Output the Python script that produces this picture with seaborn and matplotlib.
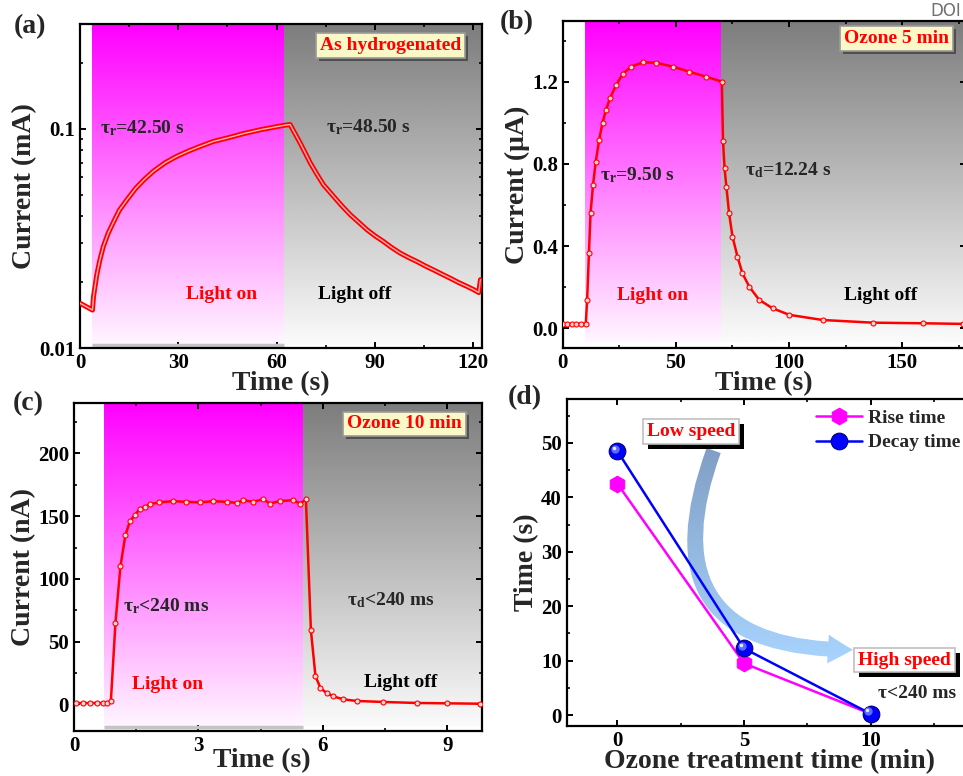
import numpy as np
import matplotlib
matplotlib.use('Agg')
import matplotlib.pyplot as plt
import matplotlib.patheffects as pe
from matplotlib.colors import to_rgb
from matplotlib.patches import FancyArrowPatch
from matplotlib.ticker import MultipleLocator, LogLocator, NullFormatter, FormatStrFormatter
from matplotlib.transforms import offset_copy
import seaborn as sns

# (a) as hydrogenated, current in mA (log)
ta = [0, 3.8, 4.1, 5.1, 6.0, 7.1, 8.6, 10.2, 12.0, 14.3, 17.0, 19.5, 22.4, 26.0, 29.5, 33.0,
      36.6, 40.7, 44.8, 49.9, 55.0, 59.0, 62.1, 64.1,
      67.2, 70.3, 72.3, 74.3, 77.4, 79.9, 82.5, 85.0, 87.6, 90.0, 92.6, 95.0, 97.7, 100.2,
      102.8, 105.3, 107.9, 110.5, 113.0, 115.5, 118.1, 120.0, 121.7, 122.2]
ia = [0.0160, 0.0149, 0.0171, 0.0215, 0.0250, 0.0290, 0.0334, 0.0375, 0.0425, 0.0474, 0.0535,
      0.0585, 0.0640, 0.0700, 0.0748, 0.0790, 0.0830, 0.0875, 0.0906, 0.0950, 0.0989, 0.1015,
      0.1035, 0.1045,
      0.0860, 0.0697, 0.0620, 0.0555, 0.0491, 0.0445, 0.0405, 0.0375, 0.0346, 0.0325, 0.0306,
      0.0288, 0.0271, 0.0259, 0.0248, 0.0237, 0.0227, 0.0217, 0.0208, 0.0199, 0.0191, 0.0185,
      0.0179, 0.0205]
on_a, off_a = 3.7, 62.3

# (b) ozone 5 min, current in uA
tb = [0, 2, 4, 6, 8, 10.2, 10.8, 11.6, 12.3, 13.4, 14.6, 16.1, 17.6, 19.1, 20.9, 23.6, 26.5,
      30.2, 35.4, 41.3, 48.7, 56.0, 63.4, 70.3, 70.8, 71.5, 72.3, 73.5, 75.0, 77.2, 79.4, 82.4,
      86.8, 92.7, 100.1, 114.8, 136.9, 159.0, 176.6]
ib = [0.021, 0.021, 0.021, 0.021, 0.021, 0.021, 0.138, 0.365, 0.559, 0.697, 0.810, 0.916, 1.000,
      1.062, 1.119, 1.184, 1.237, 1.273, 1.294, 1.292, 1.273, 1.248, 1.224, 1.200, 0.912, 0.778,
      0.689, 0.559, 0.446, 0.348, 0.267, 0.202, 0.138, 0.097, 0.065, 0.040, 0.027, 0.024, 0.021]
on_b, off_b = 10.0, 70.1

# (c) ozone 10 min, current in nA
tc = [0.06, 0.22, 0.39, 0.55, 0.71, 0.79, 0.89, 1.00, 1.12, 1.24, 1.35, 1.47, 1.59, 1.71, 1.83,
      2.06, 2.39, 2.71, 3.04, 3.36, 3.68, 3.92, 4.08, 4.32, 4.56, 4.72, 4.96, 5.29, 5.45, 5.59,
      5.71, 5.82, 5.94, 6.09, 6.25, 6.49, 6.81, 7.45, 8.26, 9.00, 9.78]
ic = [1.0, 1.0, 1.0, 1.0, 1.0, 1.2, 2.7, 65, 110, 135, 146, 151, 156, 157.4, 159.6,
      161, 162, 161.4, 161, 162, 161.4, 160.6, 162.8, 161.4, 163.6, 160.1, 162, 162.8, 160.1, 163.3,
      59, 22.6, 13, 9, 6.4, 4, 2.7, 1.9, 1.1, 0.8, 0.5]
on_c, off_c = 0.72, 5.53

# (d) response times vs ozone treatment
ozone = [0, 5, 10]
rise = [42.5, 9.5, 0.24]
decay = [48.5, 12.24, 0.24]

sns.set_style('ticks')
plt.rcParams['font.family'] = ['Liberation Serif', 'DejaVu Serif']
plt.rcParams['font.weight'] = 'bold'
plt.rcParams['axes.labelweight'] = 'bold'
plt.rcParams['axes.labelsize'] = 20
plt.rcParams['mathtext.fontset'] = 'custom'
plt.rcParams['mathtext.rm'] = 'Liberation Serif:bold'
plt.rcParams['mathtext.bf'] = 'Liberation Serif:bold'
plt.rcParams['mathtext.it'] = 'Liberation Serif:bold'
plt.rcParams['axes.linewidth'] = 1.6
plt.rcParams['axes.edgecolor'] = 'black'
for a in ['xtick', 'ytick']:
    plt.rcParams[a + '.direction'] = 'in'
    plt.rcParams[a + '.labelsize'] = 15
    plt.rcParams[a + '.major.size'] = 4
    plt.rcParams[a + '.major.width'] = 1.4
    plt.rcParams[a + '.minor.size'] = 2.5
    plt.rcParams[a + '.minor.width'] = 1.2
    plt.rcParams[a + '.color'] = 'black'
plt.rcParams['xtick.top'] = True
plt.rcParams['ytick.right'] = True

fig = plt.figure(figsize=(9.63, 7.76), dpi=100)
axa = fig.add_axes([0.0831, 0.5515, 0.4175, 0.4175])
axb = fig.add_axes([0.5843, 0.5519, 0.4185, 0.4210])
axc = fig.add_axes([0.0768, 0.0584, 0.4240, 0.4219])
axd = fig.add_axes([0.5885, 0.0644, 0.4209, 0.4210])


def ramp(c_top, c_bot):
    g = np.linspace(0, 1, 256)[:, None, None]
    return np.array(to_rgb(c_top)) * (1 - g) + np.array(to_rgb(c_bot)) * g


def shade(ax, on, off, end, ybot):
    tr = ax.get_xaxis_transform()
    ax.imshow(ramp('#ff00ff', '#fff6ff'), extent=(on, off, ybot, 1), transform=tr,
              aspect='auto', zorder=0, interpolation='bilinear')
    ax.imshow(ramp('#7d7d7d', '#fbfbfb'), extent=(off, end, ybot, 1), transform=tr,
              aspect='auto', zorder=0, interpolation='bilinear')


def tag(ax, x, y, s, fc, ec, shadow, off, size=14):
    t = ax.text(x, y, s, transform=ax.transAxes, ha='center', va='center', color='red',
                fontsize=size, fontweight='bold', zorder=8,
                bbox=dict(boxstyle='square,pad=0.2', fc=fc, ec=ec, lw=1.2))
    t.get_bbox_patch().set_path_effects([pe.SimplePatchShadow(offset=off, shadow_rgbFace=shadow, alpha=1),
                                         pe.Normal()])


def words(ax, on_xy, off_xy):
    ax.text(*on_xy, 'Light on', transform=ax.transAxes, ha='center', va='center',
            color='red', fontsize=14, zorder=7)
    ax.text(*off_xy, 'Light off', transform=ax.transAxes, ha='center', va='center',
            color='black', fontsize=14, zorder=7)


# ---- (a)
shade(axa, on_a, off_a, 123, 0.01)
axa.plot([on_a, off_a], [0.008, 0.008], transform=axa.get_xaxis_transform(),
         color='#c4c4c4', lw=2.5, zorder=1, solid_capstyle='butt')
sns.lineplot(x=ta, y=ia, ax=axa, color='red', lw=3.6, sort=False, estimator=None, zorder=3)
sns.lineplot(x=ta, y=ia, ax=axa, color='#ffb4b4', lw=1.0, sort=False, estimator=None, zorder=4)
axa.set_yscale('log')
axa.set_xlim(0, 122.7)
axa.set_ylim(0.01, 0.30)
axa.set_yticks([0.01, 0.1], labels=['0.01', '0.1'])
axa.yaxis.set_minor_locator(LogLocator(base=10, subs=np.arange(2, 10)))
axa.yaxis.set_minor_formatter(NullFormatter())
axa.xaxis.set_major_locator(MultipleLocator(30))
axa.xaxis.set_minor_locator(MultipleLocator(15))
axa.set_xlabel('Time (s)', labelpad=-1)
axa.set_ylabel('Current (mA)', labelpad=1)
axa.text(0.05, 0.68, r'τ$_\mathbf{r}$=42.50 s', transform=axa.transAxes, fontsize=14,
         va='center', zorder=7)
axa.text(0.612, 0.683, r'τ$_\mathbf{r}$=48.50 s', transform=axa.transAxes, fontsize=14,
         va='center', zorder=7)
words(axa, (0.351, 0.164), (0.684, 0.164))
tag(axa, 0.773, 0.935, 'As hydrogenated', '#fbf8c8', '#9a9a9a', '#505050', (2.2, -2.2))

# ---- (b)
shade(axb, on_b, off_b, 180, 0.018)
sns.lineplot(x=tb, y=ib, ax=axb, color='red', lw=1.8, marker='o', markersize=3.6,
             markerfacecolor='#ffd6d6', markeredgecolor='red', markeredgewidth=0.8,
             sort=False, estimator=None, zorder=3)
axb.set_xlim(0, 178)
axb.set_ylim(-0.095, 1.495)
axb.xaxis.set_major_locator(MultipleLocator(50))
axb.xaxis.set_minor_locator(MultipleLocator(25))
axb.yaxis.set_major_locator(MultipleLocator(0.4))
axb.yaxis.set_minor_locator(MultipleLocator(0.2))
axb.yaxis.set_major_formatter(FormatStrFormatter('%.1f'))
axb.set_xlabel('Time (s)', labelpad=-1)
axb.set_ylabel('Current (μA)', labelpad=1)
axb.text(0.093, 0.529, r'τ$_\mathbf{r}$=9.50 s', transform=axb.transAxes, fontsize=14,
         va='center', zorder=7)
axb.text(0.452, 0.544, r'τ$_\mathbf{d}$=12.24 s', transform=axb.transAxes, fontsize=14,
         va='center', zorder=7)
words(axb, (0.224, 0.161), (0.789, 0.161))
tag(axb, 0.828, 0.946, 'Ozone 5 min', '#fbf8c8', '#9a9a9a', '#505050', (2.2, -2.2))

# ---- (c)
shade(axc, on_c, off_c, 10, 0.012)
axc.plot([on_c, off_c], [0.012, 0.012], transform=axc.get_xaxis_transform(),
         color='#c4c4c4', lw=2.5, zorder=1, solid_capstyle='butt')
sns.lineplot(x=tc, y=ic, ax=axc, color='red', lw=1.8, marker='o', markersize=3.6,
             markerfacecolor='#ffd6d6', markeredgecolor='red', markeredgewidth=0.8,
             sort=False, estimator=None, zorder=3)
axc.set_xlim(0, 9.84)
axc.set_ylim(-21, 240)
axc.xaxis.set_major_locator(MultipleLocator(3))
axc.xaxis.set_minor_locator(MultipleLocator(1.5))
axc.yaxis.set_major_locator(MultipleLocator(50))
axc.yaxis.set_minor_locator(MultipleLocator(25))
axc.set_xlabel('Time (s)')
axc.xaxis.set_label_coords(0.46, -0.052)
axc.set_ylabel('Current (nA)', labelpad=1)
axc.text(0.121, 0.379, r'τ$_\mathbf{r}$<240 ms', transform=axc.transAxes, fontsize=14,
         va='center', zorder=7)
axc.text(0.668, 0.399, r'τ$_\mathbf{d}$<240 ms', transform=axc.transAxes, fontsize=14,
         va='center', zorder=7)
words(axc, (0.23, 0.14), (0.80, 0.147))
tag(axc, 0.809, 0.937, 'Ozone 10 min', '#fbf8c8', '#9a9a9a', '#505050', (2.2, -2.2))

# ---- (d)
arr = FancyArrowPatch(posA=(3.8, 48.6), posB=(9.3, 12.0),
                      connectionstyle='angle3,angleA=-110,angleB=0',
                      arrowstyle='simple,head_length=1.0,head_width=1.15,tail_width=0.6',
                      mutation_scale=18, shrinkA=0, shrinkB=0, fc='none', ec='none', zorder=1)
axd.add_patch(arr)
im = axd.imshow(ramp('#7f9cc2', '#a9d5ff'), extent=(2.0, 10.5, 9.0, 51.0), aspect='auto',
                zorder=1, interpolation='bilinear')
im.set_clip_path(arr)

sns.lineplot(x=ozone, y=rise, ax=axd, color='#ff00ff', lw=1.8, marker='h', markersize=12,
             markeredgecolor='#ff00ff', sort=False, estimator=None, zorder=3)
rise_line = axd.lines[-1]
sns.lineplot(x=ozone, y=decay, ax=axd, color='#0000ff', lw=1.8, marker='o', markersize=12,
             markeredgecolor='#00007a', markeredgewidth=0.8, sort=False, estimator=None, zorder=4)
decay_line = axd.lines[-1]
hl = offset_copy(axd.transData, fig=fig, x=-2.5, y=2.5, units='dots')
axd.plot(ozone, decay, ls='none', marker='o', ms=6, color='#5a6cff', mec='none', transform=hl, zorder=5)
hl2 = offset_copy(axd.transData, fig=fig, x=-3.5, y=3.5, units='dots')
axd.plot(ozone, decay, ls='none', marker='o', ms=2.5, color='#e8ecff', mec='none', transform=hl2, zorder=6)

axd.set_xlim(-2, 14)
axd.set_ylim(-2, 58)
axd.set_xticks([0, 5, 10])
axd.xaxis.set_minor_locator(MultipleLocator(2.5))
axd.yaxis.set_major_locator(MultipleLocator(10))
axd.yaxis.set_minor_locator(MultipleLocator(5))
axd.set_xlabel('Ozone treatment time (min)', labelpad=-1)
axd.set_ylabel('Time (s)', labelpad=1)
axd.legend([rise_line, decay_line], ['Rise time', 'Decay time'], loc='upper left',
           bbox_to_anchor=(0.585, 1.005), frameon=False, fontsize=14, handlelength=2.4,
           handletextpad=0.3, labelspacing=0.35, borderaxespad=0.2)
tag(axd, 0.306, 0.901, 'Low speed', 'white', '#c0c0c0', 'black', (3.5, -3.5))
tag(axd, 0.834, 0.202, 'High speed', 'white', '#c0c0c0', 'black', (3.5, -3.5))
axd.text(0.769, 0.10, 'τ<240 ms', transform=axd.transAxes, fontsize=14, va='center', zorder=7)

# panel letters and the watermark
for s, x, y in [('(a)', 30, 27), ('(b)', 517, 23), ('(c)', 28, 404), ('(d)', 525, 398)]:
    fig.text(x / 963, 1 - y / 776, s, fontsize=20, ha='center', va='center')
fig.text(0.998, 0.986, 'DOI', fontsize=12, color='#707070', family='DejaVu Sans',
         fontweight='normal', ha='right', va='center')

fig.savefig('out.png', dpi=100)
